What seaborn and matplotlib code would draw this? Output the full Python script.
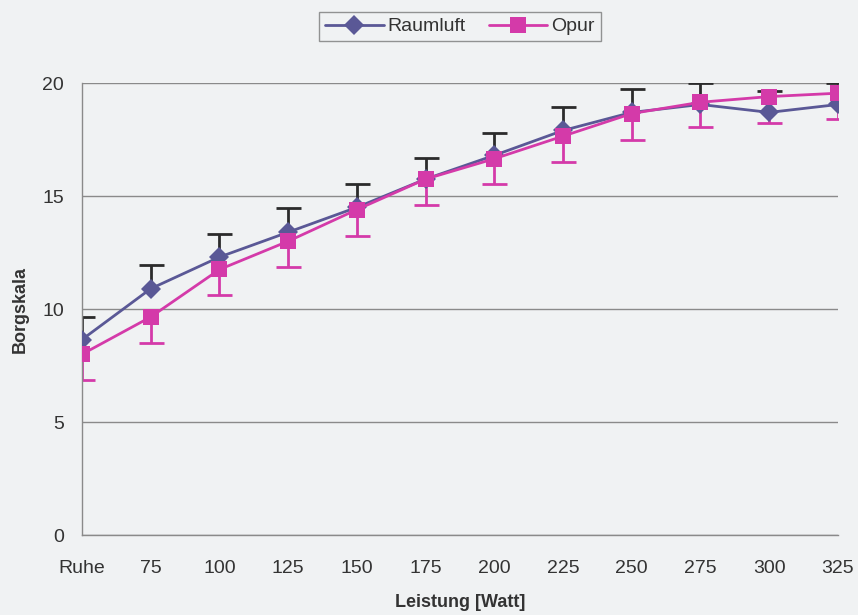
import numpy as np
import pandas as pd
import matplotlib
matplotlib.use("Agg")
import matplotlib.pyplot as plt
import seaborn as sns

# Data
stufen = ["Ruhe", "75", "100", "125", "150", "175", "200", "225", "250", "275", "300", "325"]
raumluft = [8.65, 10.9, 12.3, 13.4, 14.5, 15.75, 16.8, 17.9, 18.7, 19.05, 18.7, 19.05]
raumluft_err = [1.0, 1.05, 1.0, 1.05, 1.05, 0.95, 1.0, 1.05, 1.05, 0.95, 0.95, 0.95]
opur = [8.0, 9.65, 11.75, 13.0, 14.4, 15.75, 16.65, 17.65, 18.65, 19.15, 19.4, 19.55]
opur_err = [1.15, 1.15, 1.15, 1.15, 1.15, 1.15, 1.1, 1.15, 1.15, 1.1, 1.15, 1.15]

BG = "#f0f2f3"
C_RAUM = "#5a5896"
C_OPUR = "#d43aa9"
C_ERR = "#2b2b2b"
SIZES = {"Raumluft": 10, "Opur": 12}

sns.set_style("white")
plt.rcParams["font.family"] = ["Liberation Sans", "DejaVu Sans"]

pos = np.arange(len(stufen))
df = pd.DataFrame({
    "pos": np.concatenate([pos, pos]),
    "wert": raumluft + opur,
    "gruppe": ["Raumluft"] * len(pos) + ["Opur"] * len(pos),
})

fig = plt.figure(figsize=(8.58, 6.15), dpi=100, facecolor=BG)
ax = fig.add_axes([0.0956, 0.130, 0.881, 0.735])
ax.set_facecolor(BG)

# error bars: Raumluft only upward (dark), Opur only downward (magenta)
r_top = np.array(raumluft) + np.array(raumluft_err)
o_bot = np.array(opur) - np.array(opur_err)
ax.vlines(pos, raumluft, r_top, color=C_ERR, linewidth=2, zorder=2)
ax.plot(pos, r_top, linestyle="none", marker="_", markersize=18,
        markeredgewidth=2, color=C_ERR, zorder=2)
ax.vlines(pos, o_bot, opur, color=C_OPUR, linewidth=2, zorder=2)
ax.plot(pos, o_bot, linestyle="none", marker="_", markersize=18,
        markeredgewidth=2, color=C_OPUR, zorder=2)

sns.lineplot(data=df, x="pos", y="wert", hue="gruppe", style="gruppe",
             palette={"Raumluft": C_RAUM, "Opur": C_OPUR},
             markers={"Raumluft": "D", "Opur": "s"}, dashes=False,
             markeredgewidth=0, linewidth=2, ax=ax, zorder=3)
for ln in ax.lines:
    if ln.get_marker() == "D":
        ln.set_markersize(SIZES["Raumluft"])
    elif ln.get_marker() == "s":
        ln.set_markersize(SIZES["Opur"])

ax.set_xlim(0, len(stufen) - 1)
ax.set_ylim(0, 20)
ax.set_yticks([0, 5, 10, 15, 20])
ax.set_xticks(pos)
ax.set_xticklabels(stufen)
ax.yaxis.grid(True, color="#8a8a8a", linewidth=1)
ax.set_axisbelow(True)
for s in ["top", "right"]:
    ax.spines[s].set_visible(False)
for s in ["left", "bottom"]:
    ax.spines[s].set_color("#8a8a8a")
    ax.spines[s].set_linewidth(1)
ax.tick_params(axis="y", direction="out", length=5, color="#8a8a8a",
               labelsize=14, pad=8, labelcolor="#333333")
ax.tick_params(axis="x", direction="in", length=5, color="#8a8a8a",
               labelsize=14, pad=18, labelcolor="#333333")
ax.set_xlabel("Leistung [Watt]", fontsize=13, fontweight="bold", labelpad=12,
              color="#333333")
ax.set_ylabel("Borgskala", fontsize=13, fontweight="bold", labelpad=10,
              color="#333333")

handles, labels = ax.get_legend_handles_labels()
for h, lab in zip(handles, labels):
    h.set_markersize(SIZES[lab])
leg = ax.legend(handles, labels, loc="center", bbox_to_anchor=(0.5, 1.125), ncol=2,
                frameon=True, fancybox=False, fontsize=14, handlelength=3.0,
                columnspacing=1.2, handletextpad=0.2, borderpad=0.3)
leg.get_frame().set_edgecolor("#7a7a7a")
leg.get_frame().set_facecolor(BG)
leg.get_frame().set_linewidth(1)
for t in leg.get_texts():
    t.set_color("#333333")

fig.savefig("out.png", dpi=100, facecolor=BG)
